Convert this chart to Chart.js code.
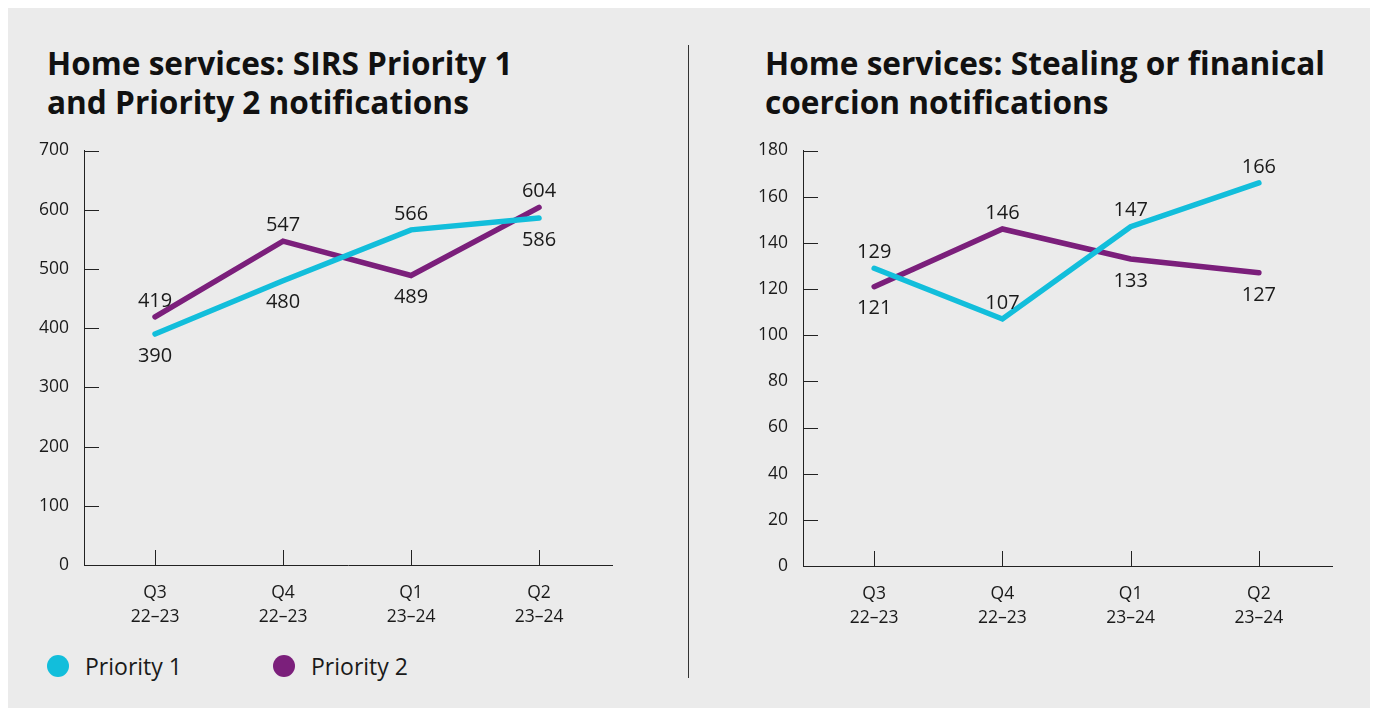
<!DOCTYPE html>
<html>
<head>
<meta charset="utf-8">
<script src="https://cdn.jsdelivr.net/npm/chart.js@4.4.1/dist/chart.umd.min.js"></script>
<style>
  html, body { margin: 0; padding: 0; background: #fff; }
  body { width: 1375px; height: 711px; position: relative; overflow: hidden; font-family: "Open Sans", "Noto Sans", sans-serif; color: #1a1a1a; }
  #panel { position: absolute; left: 8px; top: 8px; width: 1362px; height: 700px; background: #ebebeb; }
  .title { position: absolute; font-weight: 700; font-size: 31.6px; line-height: 39px; color: #111; white-space: nowrap; }
  .divider { position: absolute; left: 688px; top: 45px; width: 1px; height: 633px; background: #333; }
  canvas { position: absolute; }
  .legend-item { position: absolute; top: 652px; height: 28px; display: flex; align-items: center; font-size: 23px; color: #1a1a1a; }
  .legend-item span.dot { width: 22px; height: 22px; border-radius: 50%; margin-right: 16px; }
</style>
</head>
<body>
<div id="panel"></div>
<div class="title" style="left:47px; top:43px;">Home services: SIRS Priority 1<br>and Priority 2 notifications</div>
<div class="title" style="left:765px; top:43px;">Home services: Stealing or finanical<br>coercion notifications</div>
<div class="divider"></div>
<canvas id="sirsChart" width="680" height="525" style="left:0; top:125px; width:680px; height:525px;"></canvas>
<canvas id="stealingChart" width="687" height="525" style="left:688px; top:125px; width:687px; height:525px;"></canvas>
<div id="legend"></div>
<script>
const quarters = [['Q3', '22–23'], ['Q4', '22–23'], ['Q1', '23–24'], ['Q2', '23–24']];
const seriesNames = ['Priority 1', 'Priority 2'];
const seriesColors = ['#12bedb', '#7b1f7b'];

const sirsPriority1 = [390, 480, 566, 586];
const sirsPriority2 = [419, 547, 489, 604];

const stealingPriority1 = [129, 107, 147, 166];
const stealingPriority2 = [121, 146, 133, 127];

// where each value label sits relative to its point
const sirsLabelSide = [['below', 'below', 'above', 'below'], ['above', 'above', 'below', 'above']];
const stealingLabelSide = [['above', 'above', 'above', 'above'], ['below', 'above', 'below', 'below']];

const textColor = '#1a1a1a';
const axisColor = '#222';

// short tick marks pointing into the plot area, plus the value labels
const innerTicks = {
  id: 'innerTicks',
  afterDraw(chart) {
    const ctx = chart.ctx;
    const area = chart.chartArea;
    const xs = chart.scales.x, ys = chart.scales.y;
    ctx.save();
    ctx.strokeStyle = axisColor;
    ctx.lineWidth = 1;
    ys.ticks.forEach(t => {
      const py = Math.round(ys.getPixelForValue(t.value)) + 0.5;
      ctx.beginPath();
      ctx.moveTo(area.left, py);
      ctx.lineTo(area.left + 15, py);
      ctx.stroke();
    });
    xs.ticks.forEach(t => {
      const px = Math.round(xs.getPixelForValue(t.value)) + 0.5;
      ctx.beginPath();
      ctx.moveTo(px, area.bottom);
      ctx.lineTo(px, area.bottom - 15);
      ctx.stroke();
    });

    const sides = chart.options.plugins.innerTicks.sides;
    ctx.fillStyle = textColor;
    ctx.font = '20px "Open Sans", "Noto Sans", sans-serif';
    ctx.textAlign = 'center';
    ctx.textBaseline = 'middle';
    chart.data.datasets.forEach((ds, di) => {
      const meta = chart.getDatasetMeta(di);
      meta.data.forEach((pt, i) => {
        const side = sides[di][i];
        const y = side === 'above' ? pt.y - 16 : pt.y + 22;
        ctx.fillText(String(ds.data[i].y), pt.x, y);
      });
    });
    ctx.restore();
  }
};

function makeChart(id, p1, p2, yMax, yStep, sides, yWidth, xHeight, padRight) {
  const toPoints = arr => arr.map((v, i) => ({ x: i, y: v }));
  return new Chart(document.getElementById(id), {
    type: 'line',
    data: {
      datasets: [
        { label: seriesNames[0], data: toPoints(p1), borderColor: seriesColors[0], order: 0 },
        { label: seriesNames[1], data: toPoints(p2), borderColor: seriesColors[1], order: 1 }
      ]
    },
    options: {
      responsive: false,
      animation: false,
      events: [],
      layout: { padding: { top: 15, right: padRight, bottom: 0, left: 0 } },
      elements: {
        line: { borderWidth: 5.5, borderCapStyle: 'round', borderJoinStyle: 'miter', tension: 0, fill: false },
        point: { radius: 0 }
      },
      plugins: {
        legend: { display: false },
        tooltip: { enabled: false },
        innerTicks: { sides: sides }
      },
      scales: {
        x: {
          type: 'linear',
          min: -0.555,
          max: 3.57,
          afterFit: s => { s.height = xHeight; },
          afterBuildTicks: s => { s.ticks = quarters.map((q, i) => ({ value: i })); },
          grid: { display: false, drawTicks: false },
          border: { display: true, color: axisColor, width: 1 },
          ticks: {
            padding: 16,
            color: textColor,
            font: { family: '"Open Sans", "Noto Sans", sans-serif', size: 17.5, lineHeight: 1.37 },
            maxRotation: 0,
            callback: v => quarters[v]
          }
        },
        y: {
          min: 0,
          max: yMax,
          afterFit: s => { s.width = yWidth; },
          grid: { display: false, drawTicks: false },
          border: { display: true, color: axisColor, width: 1 },
          ticks: {
            stepSize: yStep,
            padding: 15,
            color: textColor,
            font: { family: '"Open Sans", "Noto Sans", sans-serif', size: 17.5 }
          }
        }
      }
    },
    plugins: [innerTicks]
  });
}

makeChart('sirsChart', sirsPriority1, sirsPriority2, 700, 100, sirsLabelSide, 84, 85, 68);
makeChart('stealingChart', stealingPriority1, stealingPriority2, 180, 20, stealingLabelSide, 115, 84, 43);

// legend under the left chart
const legend = document.getElementById('legend');
const legendLeft = [47, 273];
seriesNames.forEach((name, i) => {
  const item = document.createElement('div');
  item.className = 'legend-item';
  item.style.left = legendLeft[i] + 'px';
  const dot = document.createElement('span');
  dot.className = 'dot';
  dot.style.background = seriesColors[i];
  item.appendChild(dot);
  item.appendChild(document.createTextNode(name));
  legend.appendChild(item);
});
</script>
</body>
</html>
